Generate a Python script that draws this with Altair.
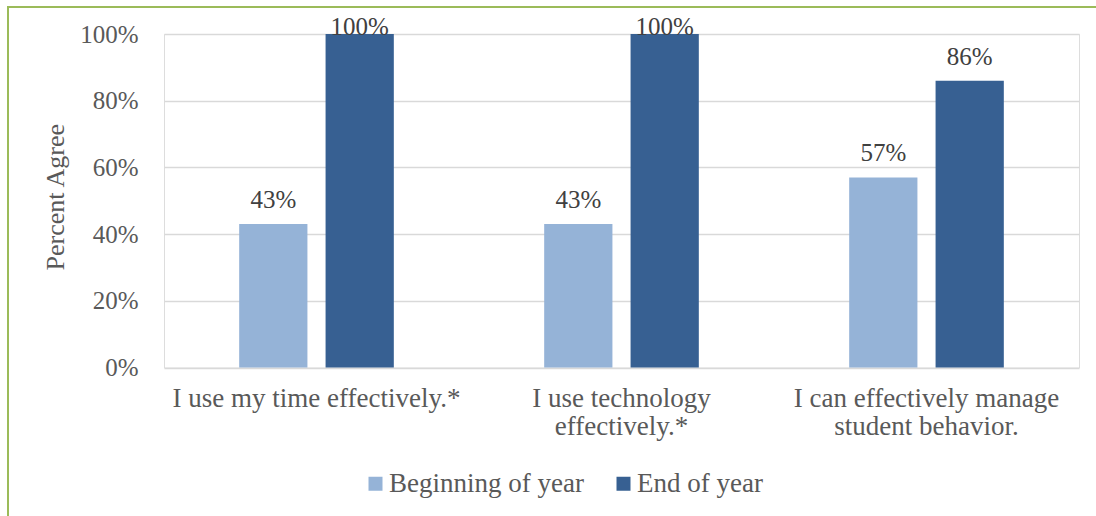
import altair as alt
import pandas as pd

categories = ["I use my time effectively.*",
              "I use technology|effectively.*",
              "I can effectively manage|student behavior."]
series = ["Beginning of year", "End of year"]
beginning = [0.43, 0.43, 0.57]
end = [1.00, 1.00, 0.86]

rows = []
for c, b, e in zip(categories, beginning, end):
    rows.append({"cat": c, "series": series[0], "value": b})
    rows.append({"cat": c, "series": series[1], "value": e})
df = pd.DataFrame(rows)

FONT = "Liberation Serif"
GRAY = "#595959"
W, H = 915, 333.5
PL, PT = 164, 34

x = alt.X("cat:N", sort=categories, title=None,
          scale=alt.Scale(paddingInner=0.493, paddingOuter=0.2465),
          axis=alt.Axis(labelAngle=0, labelExpr="split(datum.label, '|')",
                        labelFont=FONT, labelFontSize=27, labelColor=GRAY,
                        labelPadding=18, ticks=False, domain=False,
                        labelLineHeight=28, labelLimit=0))
xo = alt.XOffset("series:N", sort=series,
                 scale=alt.Scale(paddingInner=0.21, paddingOuter=0))
y = alt.Y("value:Q", scale=alt.Scale(domain=[0, 1]),
          axis=alt.Axis(format=".0%", values=[0, 0.2, 0.4, 0.6, 0.8, 1.0],
                        title="Percent Agree", titleFont=FONT, titleFontSize=26,
                        titleFontWeight="normal", titleColor=GRAY,
                        titleAngle=270, titleX=-101, titleY=H / 2 - 4,
                        titleBaseline="alphabetic", titleAlign="center",
                        labelFont=FONT, labelFontSize=25, labelColor=GRAY,
                        labelPadding=26, ticks=False, domain=False,
                        gridColor="#D9D9D9", gridWidth=1.5))
color = alt.Color("series:N", sort=series,
                  scale=alt.Scale(domain=series, range=["#95B3D7", "#376092"]),
                  legend=alt.Legend(title=None, orient="none", direction="horizontal",
                                    legendX=198, legendY=436,
                                    symbolType="square", symbolSize=196,
                                    symbolStrokeWidth=0, symbolOpacity=1,
                                    labelFont=FONT, labelFontSize=27, labelColor=GRAY,
                                    labelOffset=0, columnPadding=26, labelLimit=400))

bars = alt.Chart(df).mark_bar(opacity=1).encode(x=x, xOffset=xo, y=y, color=color)
labels = alt.Chart(df).transform_calculate(
    labelpos="min(datum.value, 0.949)"
).mark_text(font=FONT, fontSize=25, color="#404040",
            baseline="alphabetic", dy=-16).encode(
    x=alt.X("cat:N", sort=categories), xOffset=xo, y="labelpos:Q",
    text=alt.Text("value:Q", format=".0%"))

border_top = alt.Chart(df).mark_rule(color="#9BBB59", strokeWidth=2).encode(
    x=alt.value(7 - PL), x2=alt.value(1200), y=alt.value(7 - PT))
border_left = alt.Chart(df).mark_rule(color="#9BBB59", strokeWidth=2).encode(
    x=alt.value(8 - PL), y=alt.value(7 - PT), y2=alt.value(600))

chart = alt.layer(bars, labels, border_top, border_left).properties(
    width=W, height=H,
    autosize=alt.AutoSizeParams(type="none"),
    padding={"left": PL, "top": PT, "right": 1096 - PL - W, "bottom": 516 - PT - H},
).configure_view(stroke=None).configure(background="white")

chart.save("out.html", embed_options={"renderer": "svg", "actions": False})
